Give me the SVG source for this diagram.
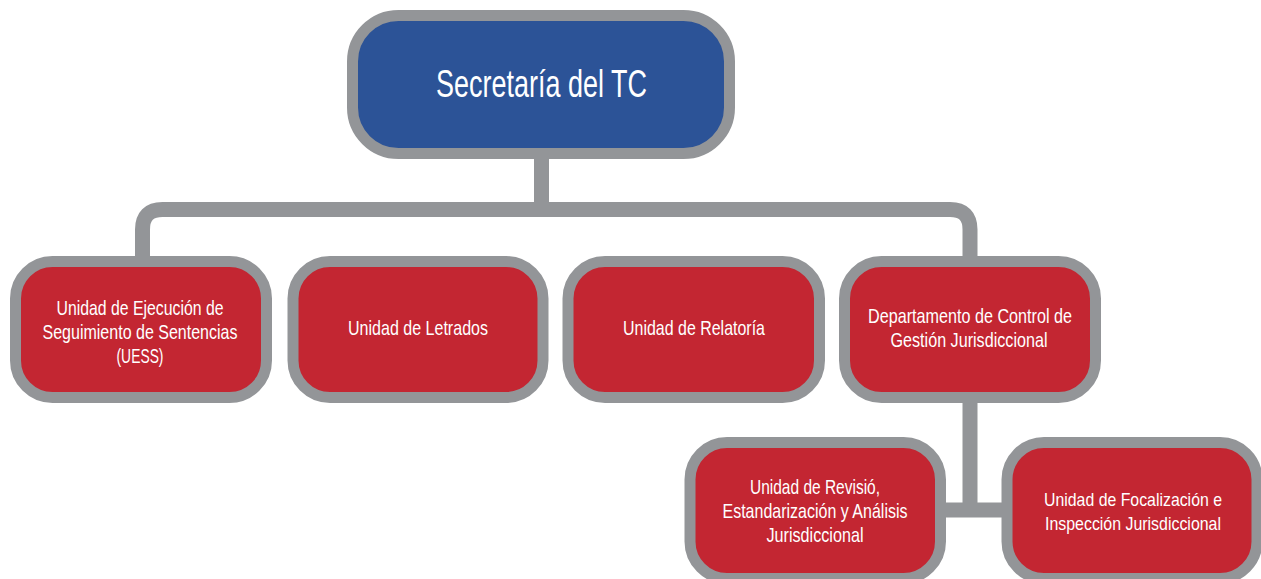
<svg xmlns="http://www.w3.org/2000/svg" width="1261" height="579" viewBox="0 0 1261 579">
<style>
.box{stroke:#939598;stroke-width:11}
.red{fill:#c32632}
.blue{fill:#2c5397}
.conn{fill:none;stroke:#939598;stroke-width:15}
text{font-family:"Liberation Sans Narrow","Liberation Sans",Arial,sans-serif;fill:#ffffff;text-anchor:start}
.t{font-size:21px}
.s{font-size:19px}
.h{font-size:38px}
</style>
<rect width="1261" height="579" fill="#ffffff"/>
<g id="connectors">
<path class="conn" d="M541.5 158 V209.5"/>
<path class="conn" d="M142.5 262 V229.5 Q142.5 209.5 162.5 209.5 H950 Q970 209.5 970 229.5 V262"/>
<path class="conn" d="M970 402 V510"/>
<path class="conn" d="M945 510 H1003"/>
</g>
<g id="secretaria">
<rect class="box blue" x="352.5" y="15.5" width="377" height="138" rx="46"/>
<text class="h" x="436" y="97" textLength="211" lengthAdjust="spacingAndGlyphs">Secretaría del TC</text>
</g>
<g id="uess">
<rect class="box red" x="15.5" y="261.5" width="251" height="136" rx="37"/>
<text class="t" x="56.5" y="314.5" textLength="167" lengthAdjust="spacingAndGlyphs">Unidad de Ejecución de</text>
<text class="t" x="42.5" y="338.5" textLength="195" lengthAdjust="spacingAndGlyphs">Seguimiento de Sentencias</text>
<text class="t" x="116.5" y="362.5" textLength="47" lengthAdjust="spacingAndGlyphs">(UESS)</text>
</g>
<g id="letrados">
<rect class="box red" x="293" y="261.5" width="250" height="136" rx="37"/>
<text class="t" x="348" y="335" textLength="140" lengthAdjust="spacingAndGlyphs">Unidad de Letrados</text>
</g>
<g id="relatoria">
<rect class="box red" x="568" y="261.5" width="251.5" height="136" rx="37"/>
<text class="t" x="623" y="335" textLength="142" lengthAdjust="spacingAndGlyphs">Unidad de Relatoría</text>
</g>
<g id="departamento">
<rect class="box red" x="844.5" y="261.5" width="251" height="136" rx="37"/>
<text class="t" x="868" y="323" textLength="204" lengthAdjust="spacingAndGlyphs">Departamento de Control de</text>
<text class="t" x="890.5" y="347" textLength="157" lengthAdjust="spacingAndGlyphs">Gestión Jurisdiccional</text>
</g>
<g id="revision">
<rect class="box red" x="690" y="442.5" width="250.5" height="136" rx="37"/>
<text class="t" x="750" y="494" textLength="130" lengthAdjust="spacingAndGlyphs">Unidad de Revisió,</text>
<text class="t" x="722.5" y="517.5" textLength="185" lengthAdjust="spacingAndGlyphs">Estandarización y Análisis</text>
<text class="t" x="766.5" y="541.5" textLength="97" lengthAdjust="spacingAndGlyphs">Jurisdiccional</text>
</g>
<g id="focalizacion">
<rect class="box red" x="1007" y="442.5" width="250" height="136" rx="37"/>
<text class="s" x="1044" y="506" textLength="178" lengthAdjust="spacingAndGlyphs">Unidad de Focalización e</text>
<text class="s" x="1045" y="530" textLength="176" lengthAdjust="spacingAndGlyphs">Inspección Jurisdiccional</text>
</g>
</svg>
